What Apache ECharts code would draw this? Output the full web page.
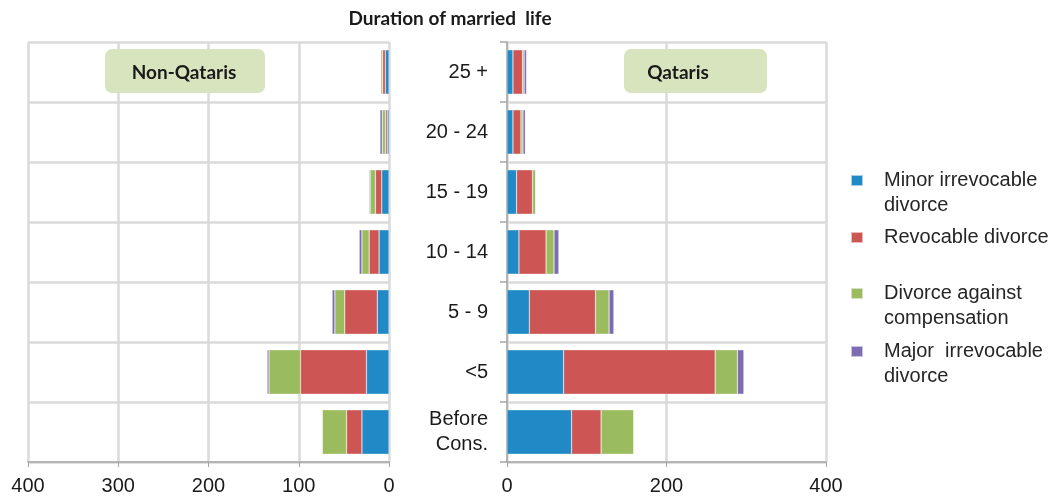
<!DOCTYPE html>
<html>
<head>
<meta charset="utf-8">
<script src="https://cdn.jsdelivr.net/npm/echarts@6/dist/echarts.min.js"></script>
<style>
  html, body { margin: 0; padding: 0; background: #fff; }
  #chart { width: 1062px; height: 496px; }
</style>
</head>
<body>
<div id="chart"></div>
<script>
  // categories bottom -> top
  var categories = ['Before\nCons.', '<5', '5 - 9', '10 - 14', '15 - 19', '20 - 24', '25 +'];
  var seriesNames = ['Minor irrevocable divorce', 'Revocable divorce', 'Divorce against compensation', 'Major  irrevocable divorce'];
  var legendLabels = ['Minor irrevocable\ndivorce', 'Revocable divorce', 'Divorce against\ncompensation', 'Major  irrevocable\ndivorce'];
  var colors = ['#2189c6', '#cd5554', '#9bbb5f', '#7d6cb2'];

  // Non-Qataris
  var nonMinor = [30, 25, 13, 11, 8, 2, 4];
  var nonRevocable = [17, 73, 36, 11, 7, 2, 3];
  var nonCompensation = [27, 35, 11, 8, 6, 3.5, 2];
  var nonMajor = [0, 2, 3, 3, 1, 2.5, 0.5];

  // Qataris
  var qMinor = [81, 71, 28, 15, 12, 7.5, 7.5];
  var qRevocable = [37, 190, 83, 34, 20, 10, 12];
  var qCompensation = [41, 28, 17, 10, 4, 2.5, 2];
  var qMajor = [0, 8, 6, 6, 0, 3, 3];

  var leftTicks = { min: 0, max: 400, interval: 100 };
  var rightTicks = { min: 0, max: 400, interval: 200 };

  var nonData = [nonMinor, nonRevocable, nonCompensation, nonMajor];
  var qData = [qMinor, qRevocable, qCompensation, qMajor];

  var FONT = 'Liberation Sans, Arial, sans-serif';
  var BOLD = 'bold 19px Lato, "Liberation Sans", Arial, sans-serif';
  var gridLine = { show: true, lineStyle: { color: '#dadada', width: 2.5 } };
  var axisText = { color: '#1a1a1a', fontSize: 20, fontFamily: FONT };

  var series = [];
  nonData.forEach(function (d, i) {
    series.push({
      name: seriesNames[i], type: 'bar', stack: 'non', xAxisIndex: 0, yAxisIndex: 0,
      data: d, barCategoryGap: '26%',
      itemStyle: { color: colors[i], borderColor: 'rgba(255,255,255,0.6)', borderWidth: 0.5 }
    });
  });
  qData.forEach(function (d, i) {
    series.push({
      name: seriesNames[i], type: 'bar', stack: 'q', xAxisIndex: 1, yAxisIndex: 1,
      data: d, barCategoryGap: '26%',
      itemStyle: { color: colors[i], borderColor: 'rgba(255,255,255,0.6)', borderWidth: 0.5 }
    });
  });

  // legend: icon sits on the first text line
  var legendCenters = [181, 238, 294, 352];
  var legends = seriesNames.map(function (n, i) {
    var twoLine = legendLabels[i].indexOf('\n') >= 0;
    var txt = twoLine ? '\u00a0\n' + legendLabels[i] : legendLabels[i];
    return {
      left: 845, top: legendCenters[i] - (twoLine ? 38 : 13) - 5,
      orient: 'vertical',
      itemWidth: 12, itemHeight: 11, icon: 'rect',
      data: [n],
      formatter: function () { return txt; },
      textStyle: {
        color: '#262626', fontSize: 20, lineHeight: 25, fontFamily: FONT,
        padding: [0, 0, 0, 16]
      }
    };
  });

  var chart = echarts.init(document.getElementById('chart'));
  chart.setOption({
    backgroundColor: '#fff',
    animation: false,
    legend: legends,
    grid: [
      { left: 28, right: 673, top: 42, bottom: 33 },
      { left: 507, right: 236, top: 42, bottom: 33 }
    ],
    xAxis: [
      {
        gridIndex: 0, type: 'value', inverse: true,
        min: leftTicks.min, max: leftTicks.max, interval: leftTicks.interval,
        axisLine: { show: true, lineStyle: { color: '#a6a6a6', width: 1.5 } },
        axisTick: { show: true, length: 5, lineStyle: { color: '#a6a6a6' } },
        axisLabel: Object.assign({ margin: 14 }, axisText),
        splitLine: gridLine
      },
      {
        gridIndex: 1, type: 'value',
        min: rightTicks.min, max: rightTicks.max, interval: rightTicks.interval,
        axisLine: { show: true, lineStyle: { color: '#a6a6a6', width: 1.5 } },
        axisTick: { show: true, length: 5, lineStyle: { color: '#a6a6a6' } },
        axisLabel: Object.assign({ margin: 14 }, axisText),
        splitLine: gridLine
      }
    ],
    yAxis: [
      {
        gridIndex: 0, type: 'category', position: 'right', data: categories,
        axisLine: { show: false }, axisTick: { show: false }, axisLabel: { show: false },
        splitLine: gridLine
      },
      {
        gridIndex: 1, type: 'category', position: 'left', data: categories,
        axisLine: { show: true, lineStyle: { color: '#a6a6a6', width: 1.5 } },
        axisTick: { show: true, length: 7, lineStyle: { color: '#a6a6a6', width: 1.5 } },
        axisLabel: { margin: 19, align: 'right', fontSize: 20, lineHeight: 25, color: '#1a1a1a', fontFamily: FONT },
        splitLine: gridLine
      }
    ],
    graphic: [
      {
        type: 'text', x: 450, y: 19, z: 100,
        style: {
          text: 'Duration of married  life', fill: '#1a1a1a', align: 'center', verticalAlign: 'middle',
          font: BOLD
        }
      },
      {
        type: 'rect', z: 100, shape: { x: 105, y: 49, width: 160, height: 44, r: 7 },
        style: { fill: '#d7e4bd' }
      },
      {
        type: 'text', x: 184, y: 73, z: 101,
        style: { text: 'Non-Qataris', fill: '#1a1a1a', align: 'center', verticalAlign: 'middle', font: BOLD }
      },
      {
        type: 'rect', z: 100, shape: { x: 624, y: 49, width: 143, height: 44, r: 7 },
        style: { fill: '#d7e4bd' }
      },
      {
        type: 'text', x: 678, y: 73, z: 101,
        style: { text: 'Qataris', fill: '#1a1a1a', align: 'center', verticalAlign: 'middle', font: BOLD }
      }
    ],
    series: series
  });
</script>
</body>
</html>
